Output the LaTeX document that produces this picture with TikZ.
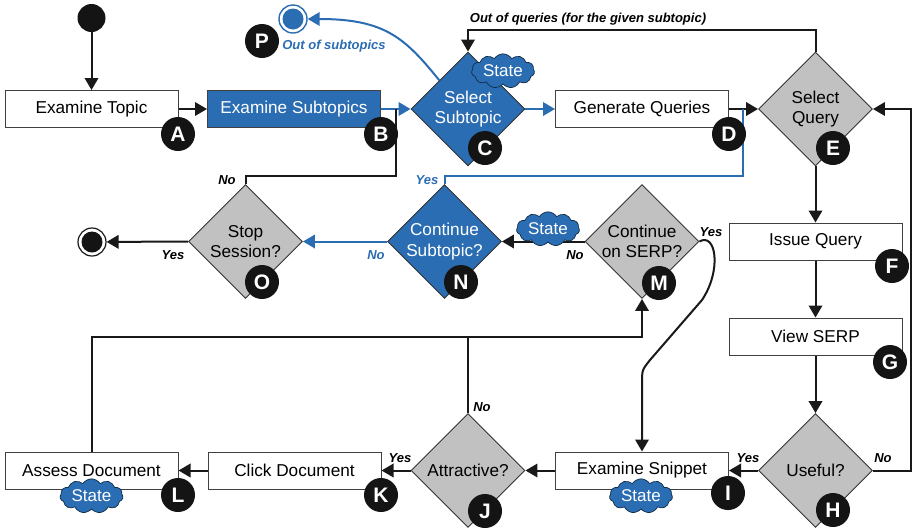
\documentclass[tikz,border=0pt]{standalone}
\usepackage{fontspec}
\setmainfont{Liberation Sans}
\usetikzlibrary{shapes.geometric,shapes.symbols,arrows.meta,calc}
\definecolor{sblue}{HTML}{2B6DB2}
\definecolor{dgray}{HTML}{C0C1C0}
\begin{document}
\begin{tikzpicture}[x=1pt,y=-1pt,
  every node/.style={font=\fontsize{17.2}{19}\selectfont},
  box/.style={draw=black!75, line width=1pt, minimum width=173pt, minimum height=37pt, inner sep=0pt, fill=white},
  bluebox/.style={box, fill=sblue, text=white},
  dia/.style={diamond, draw=black!80, line width=0.9pt, fill=dgray, minimum width=114pt, minimum height=114pt, inner sep=0pt, align=center, font=\fontsize{17.2}{20.5}\selectfont},
  bluedia/.style={dia, fill=sblue, text=white},
  badge/.style={circle, fill=black!92, text=white, minimum size=34pt, inner sep=0pt, font=\fontsize{21}{21}\selectfont\bfseries},
  statecloud/.style={cloud, cloud puffs=11, cloud puff arc=115, aspect=2.1, draw=black!60!sblue, fill=sblue, text=white, minimum width=63pt, minimum height=31pt, inner sep=0pt, line width=0.7pt, font=\fontsize{17}{17}\selectfont},
  lab/.style={font=\fontsize{13}{13}\selectfont\bfseries\itshape},
  blab/.style={lab, text=sblue},
  line/.style={line width=2pt, draw=black!90},
  bline/.style={line width=2pt, draw=sblue},
  arr/.style={line, -{Triangle[length=12pt,width=13.5pt]}},
  barr/.style={bline, -{Triangle[length=12pt,width=13.5pt]}},
]
\useasboundingbox (0,0) rectangle (913,531);

% start / end
\node[circle, fill=black!92, minimum size=28pt, inner sep=0pt] (start) at (91.5,18) {};
\node[circle, draw=black!90, line width=1.2pt, fill=white, minimum size=28pt, inner sep=0pt] (endO) at (92,242) {};
\fill[black!92] (endO.center) circle (10.5);
\node[circle, draw=sblue, line width=1.4pt, fill=white, minimum size=28pt, inner sep=0pt] (P) at (293,19) {};
\fill[sblue] (P.center) circle (10.5);

% row 1
\node[box] (exT) at (91.5,109) {Examine Topic};
\node[bluebox] (exS) at (294,109) {Examine Subtopics};
\node[bluedia] (C) at (468,109) {Select\\Subtopic};
\node[box] (genQ) at (642,109) {Generate Queries};
\node[dia] (E) at (815.5,109) {Select\\Query};

% right column
\node[box] (issue) at (815.5,241.5) {Issue Query};
\node[box] (view) at (815.5,336.5) {View SERP};
\node[dia] (H) at (815.5,470.5) {Useful?};

% bottom row
\node[box] (snip) at (642,470.5) {Examine Snippet};
\node[dia] (J) at (468,470.5) {Attractive?};
\node[box] (click) at (294.5,470.5) {Click Document};
\node[box] (assess) at (91.5,470.5) {Assess Document};

% middle row
\node[dia] (M) at (642,241.5) {Continue\\on SERP?};
\node[bluedia] (N) at (444.5,241.5) {Continue\\Subtopic?};
\node[dia] (O) at (245.5,241.5) {Stop\\Session?};

% connectors
\coordinate (jB) at (396,109);
\coordinate (jD) at (743,109);
\coordinate (rt) at (911,109);

\draw[arr] (start) -- (exT);
\draw[arr] (exT) -- (exS);
\draw[barr] (exS) -- (C);
\draw[line] (O.north) -- ++(0,-8) -| (jB);
\draw[barr] (C) -- (genQ);
\draw[arr] (genQ) -- (E);
\draw[bline] (N.north) -- ++(0,-8) -| (jD);
\draw[arr] (E.north) -- ++(0,-22) -| (C.north);
\draw[barr] (C.north west) .. controls (405,38) and (385,19) .. (P.east);
\draw[arr] (E) -- (issue);
\draw[arr] (issue) -- (view);
\draw[arr] (view) -- (H);
\draw[arr] (H.east) -| (rt) -- (E.east);
\draw[arr] (H) -- (snip);
\draw[arr] (snip) -- (J);
\draw[arr] (J) -- (click);
\draw[arr] (click) -- (assess);
\draw[line] (J.north) -- ++(0,-76) coordinate (jJ);
\draw[arr] (assess.north) |- (jJ) -| (M.south);
\draw[arr] (M.west) -- (N.east);
\draw[barr] (N.west) -- (O.east);
\draw[arr] (O.west) -- (endO);
\draw[arr] (M.east) .. controls (716,232) and (722,270) .. (702,300) -- (650,360) .. controls (642,370) .. (642,384) -- (snip.north);

% clouds
\node[statecloud] (sC) at (503,71) {State};
\node[statecloud] (sM) at (548,229) {State};
\node[statecloud] (sI) at (641,496) {State};
\node[statecloud] (sL) at (91.5,496) {State};

% badges
\node[badge] (bA) at (178,134) {A};
\node[badge] (bB) at (381,134) {B};
\node[badge] (bC) at (485,148) {C};
\node[badge] (bD) at (729,134) {D};
\node[badge] (bE) at (833,148) {E};
\node[badge] (bF) at (892,266) {F};
\node[badge] (bG) at (890,362) {G};
\node[badge] (bH) at (833,510) {H};
\node[badge] (bI) at (728,493) {I};
\node[badge] (bJ) at (485,511) {J};
\node[badge] (bK) at (381,495) {K};
\node[badge] (bL) at (178,495) {L};
\node[badge] (bM) at (659,283) {M};
\node[badge] (bN) at (461,282) {N};
\node[badge] (bO) at (262,282) {O};
\node[badge] (bP) at (262,41) {P};

% labels
\node[lab] (lOQ) at (588,19) {Out of queries (for the given subtopic)};
\node[blab] (lP) at (334,46) {Out of subtopics};
\node[lab] (lONo) at (227,180) {No};
\node[blab] (lNYes) at (427,180) {Yes};
\node[lab] (lOYes) at (173,255) {Yes};
\node[blab] (lNNo) at (376,255) {No};
\node[lab] (lMNo) at (575,255) {No};
\node[lab] (lMYes) at (711,232) {Yes};
\node[lab] (lJNo) at (482,407) {No};
\node[lab] (lJYes) at (400,458) {Yes};
\node[lab] (lHYes) at (748,458) {Yes};
\node[lab] (lHNo) at (883,458) {No};
\end{tikzpicture}
\end{document}
